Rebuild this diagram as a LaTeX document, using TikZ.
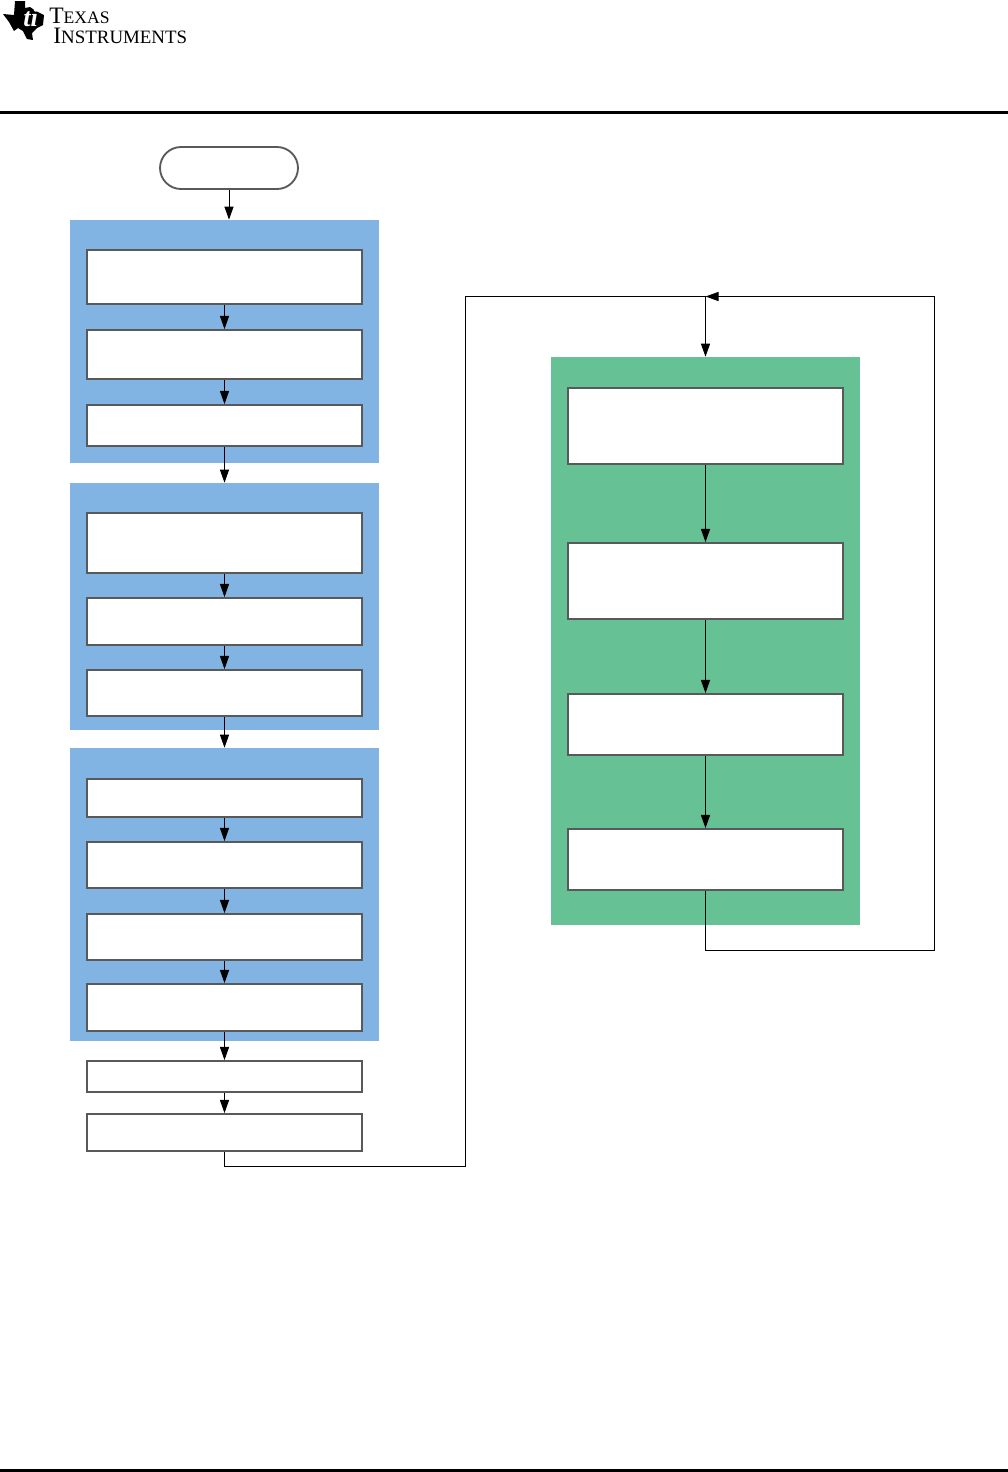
\documentclass[tikz,border=0pt]{standalone}
\usepackage{fontspec}
\setmainfont{Liberation Serif}
\definecolor{tiblue}{RGB}{130,180,227}
\definecolor{tigreen}{RGB}{102,193,148}
\definecolor{tigray}{RGB}{89,89,89}
\usetikzlibrary{arrows.meta,shapes.misc}
\tikzset{
  panel/.style={fill=#1, minimum width=6.18cm, inner sep=0pt},
  fbox/.style={draw=tigray, fill=white, line width=1.05pt, minimum width=5.5cm, inner sep=0pt},
  startbox/.style={draw=tigray, fill=white, line width=1.05pt, rounded rectangle,
                   minimum width=2.76cm, minimum height=0.84cm, inner sep=0pt},
  conn/.style={-{Stealth[length=7.5pt,width=5.2pt,inset=0pt]}, line width=0.57pt},
  wire/.style={line width=0.57pt},
  logotext/.style={inner sep=0pt, anchor=north west, align=left},
}
\begin{document}
\begin{tikzpicture}[x=0.02cm, y=-0.02cm]
  \useasboundingbox (0,0) rectangle (1008,1472);

  % Header and footer
  \fill (0,111) rectangle (1008,114);
  \fill (0,1469) rectangle (1008,1472);

  % Logo
  \fill[black] (3,14) -- (14,15) -- (15,1) -- (25,1) -- (25,8) -- (30,7) -- (36,11)
    -- (44,15) -- (43,25) -- (37,28) -- (32,33) -- (33,40) -- (27,39)
    -- (23,31) -- (18,28) -- (14,31) -- (9,22) -- cycle;
  \node[logotext, text=white, anchor=base west, font=\fontsize{15}{15}\selectfont\itshape\bfseries] (logoti) at (23,26) {ti};
  \node[logotext, font=\fontsize{13.4}{11.3}\selectfont] (logo) at (49,7.5)
    {T\fontsize{10}{11.3}\selectfont EXAS\\[0pt]
     \hspace*{2.3pt}\fontsize{13.4}{11.3}\selectfont I\fontsize{10.75}{11.3}\selectfont NSTRUMENTS};

  % Left column panels
  \node[panel=tiblue, minimum height=4.86cm] (pnlA) at (224.5,341.5) {};
  \node[panel=tiblue, minimum height=4.94cm] (pnlB) at (224.5,606.5) {};
  \node[panel=tiblue, minimum height=5.86cm] (pnlC) at (224.5,894.5) {};
  \node[panel=tigreen, minimum height=11.36cm] (pnlD) at (705.5,641) {};

  \node[startbox] (start) at (229,168) {};

  \node[fbox, minimum height=1.08cm] (a1) at (224.5,277) {};
  \node[fbox, minimum height=0.98cm] (a2) at (224.5,354.5) {};
  \node[fbox, minimum height=0.82cm] (a3) at (224.5,425.5) {};

  \node[fbox, minimum height=1.20cm] (b1) at (224.5,543) {};
  \node[fbox, minimum height=0.94cm] (b2) at (224.5,621.5) {};
  \node[fbox, minimum height=0.92cm] (b3) at (224.5,693) {};

  \node[fbox, minimum height=0.76cm] (c1) at (224.5,798) {};
  \node[fbox, minimum height=0.92cm] (c2) at (224.5,865) {};
  \node[fbox, minimum height=0.92cm] (c3) at (224.5,937) {};
  \node[fbox, minimum height=0.94cm] (c4) at (224.5,1007.5) {};

  \node[fbox, minimum height=0.62cm] (d1) at (224.5,1076.5) {};
  \node[fbox, minimum height=0.74cm] (d2) at (224.5,1132.5) {};

  % Right column
  \node[fbox, minimum height=1.52cm] (g1) at (705.5,426) {};
  \node[fbox, minimum height=1.52cm] (g2) at (705.5,581) {};
  \node[fbox, minimum height=1.22cm] (g3) at (705.5,724.5) {};
  \node[fbox, minimum height=1.22cm] (g4) at (705.5,859.5) {};

  % Connectors
  \draw[conn] (start.south) -- (start.south |- pnlA.north);
  \draw[conn] (a1) -- (a2);
  \draw[conn] (a2) -- (a3);
  \draw[conn] (a3) -- (pnlB);
  \draw[conn] (b1) -- (b2);
  \draw[conn] (b2) -- (b3);
  \draw[conn] (b3) -- (pnlC);
  \draw[conn] (c1) -- (c2);
  \draw[conn] (c2) -- (c3);
  \draw[conn] (c3) -- (c4);
  \draw[conn] (c4) -- (d1);
  \draw[conn] (d1) -- (d2);
  \draw[conn] (g1) -- (g2);
  \draw[conn] (g2) -- (g3);
  \draw[conn] (g3) -- (g4);

  % Main loop
  \coordinate (join) at (705.5,296.5);
  \coordinate (lowL) at (224.5,1166.5);
  \coordinate (lowM) at (465.5,1166.5);
  \coordinate (topM) at (465.5,296.5);
  \coordinate (lowR) at (705.5,950.5);
  \coordinate (botR) at (934.5,950.5);
  \coordinate (topR) at (934.5,296.5);
  \draw[wire] (d2.south) -- (lowL) -- (lowM) -- (topM) -- (join);
  \draw[conn] (join) -- (pnlD.north);
  \draw[conn] (g4.south) -- (lowR) -- (botR) -- (topR) -- (join);

\end{tikzpicture}
\end{document}
